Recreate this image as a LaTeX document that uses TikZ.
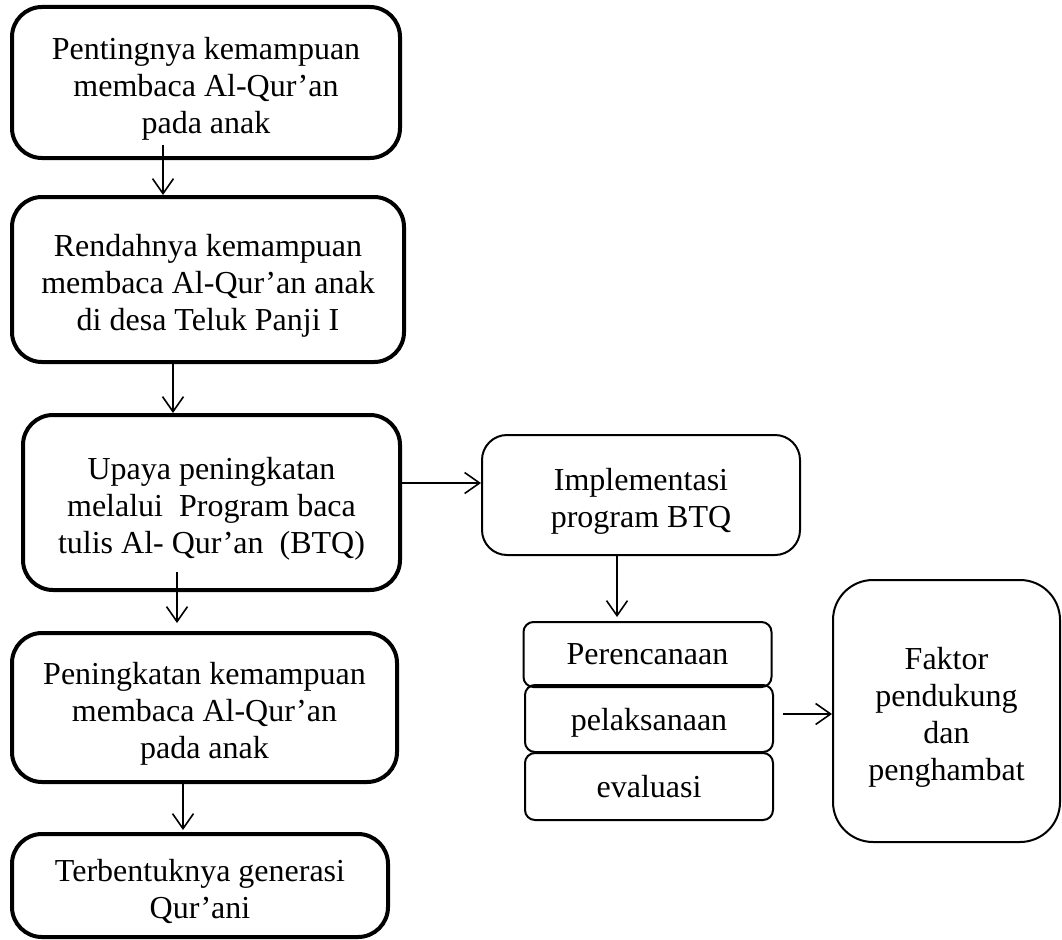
\documentclass[tikz,border=0pt]{standalone}
\usepackage{fontspec}
\setmainfont{Liberation Serif}
\usetikzlibrary{arrows.meta}
\newcommand{\topgap}{\rule{0pt}{34pt}}

\begin{document}
\begin{tikzpicture}[x=1pt,y=-1pt]
\tikzstyle{every node}+=[inner sep=0pt,align=center,font=\fontsize{32}{37}\selectfont]
\tikzstyle{box}=[draw,rectangle,rounded corners=30pt,line width=4pt]
\tikzstyle{thinbox}=[draw,rectangle,rounded corners=25pt,line width=2pt]
\tikzstyle{stepbox}=[draw,rectangle,rounded corners=10pt,line width=2pt,minimum width=248pt]
\tikzstyle{arr}=[line width=1.6pt,-{Straight Barb[length=15pt,width=21pt]}]
\useasboundingbox (0,0) rectangle (1062,939);
% left column
\node [box,minimum width=388pt,minimum height=151pt] (pentingnya) at (206,82.5) {\topgap Pentingnya kemampuan\\membaca Al-Qur’an\\pada anak};
\node [box,minimum width=392pt,minimum height=165pt] (rendahnya) at (208,279.5) {\topgap Rendahnya kemampuan\\membaca Al-Qur’an anak\\di desa Teluk Panji I};
\node [box,minimum width=377pt,minimum height=175pt] (upaya) at (211.5,502.5) {\topgap Upaya peningkatan\\melalui~ Program baca\\tulis Al- Qur’an~ (BTQ)};
\node [box,minimum width=385pt,minimum height=149pt] (peningkatan) at (204.5,707.5) {\topgap Peningkatan kemampuan\\membaca Al-Qur’an\\pada anak};
\node [box,minimum width=376pt,minimum height=103pt] (generasi) at (200,885.5) {\topgap Terbentuknya generasi\\Qur’ani};
% right part
\node [thinbox,minimum width=318pt,minimum height=120pt] (implementasi) at (641,495) {\topgap Implementasi\\program BTQ};
\node [stepbox,minimum height=65pt] (perencanaan) at (647.5,654.5) {Perencanaan};
\node [stepbox,minimum height=67pt] (pelaksanaan) at (649,718.5) {\rule{0pt}{31pt}pelaksanaan};
\node [stepbox,minimum height=67pt] (evaluasi) at (649,786.5) {evaluasi};
\node [thinbox,rounded corners=40pt,minimum width=227pt,minimum height=262pt] (faktor) at (946.5,711) {\topgap Faktor\\pendukung\\dan\\penghambat};
% arrows
\draw [arr] ([xshift=-43pt,yshift=15pt]pentingnya.south) -- ([xshift=-43pt]pentingnya.south |- rendahnya.north);
\draw [arr] ([xshift=-35pt]rendahnya.south) -- ([xshift=-35pt]rendahnya.south |- upaya.north);
\draw [arr] ([xshift=-34.5pt,yshift=20pt]upaya.south) -- ([xshift=-34.5pt,yshift=8pt]upaya.south |- peningkatan.north);
\draw [arr] ([xshift=-21.5pt]peningkatan.south) -- ([xshift=-21.5pt,yshift=2pt]peningkatan.south |- generasi.north);
\draw [arr] ([yshift=19.5pt]upaya.east) -- ([yshift=19.5pt]upaya.east -| implementasi.west);
\draw [arr] ([xshift=-24pt]implementasi.south) -- ([xshift=-24pt,yshift=4pt]implementasi.south |- perencanaan.north);
\draw [arr] ([xshift=9pt,yshift=4.5pt]pelaksanaan.east) -- ([yshift=4.5pt]pelaksanaan.east -| faktor.west);
\end{tikzpicture}
\end{document}
